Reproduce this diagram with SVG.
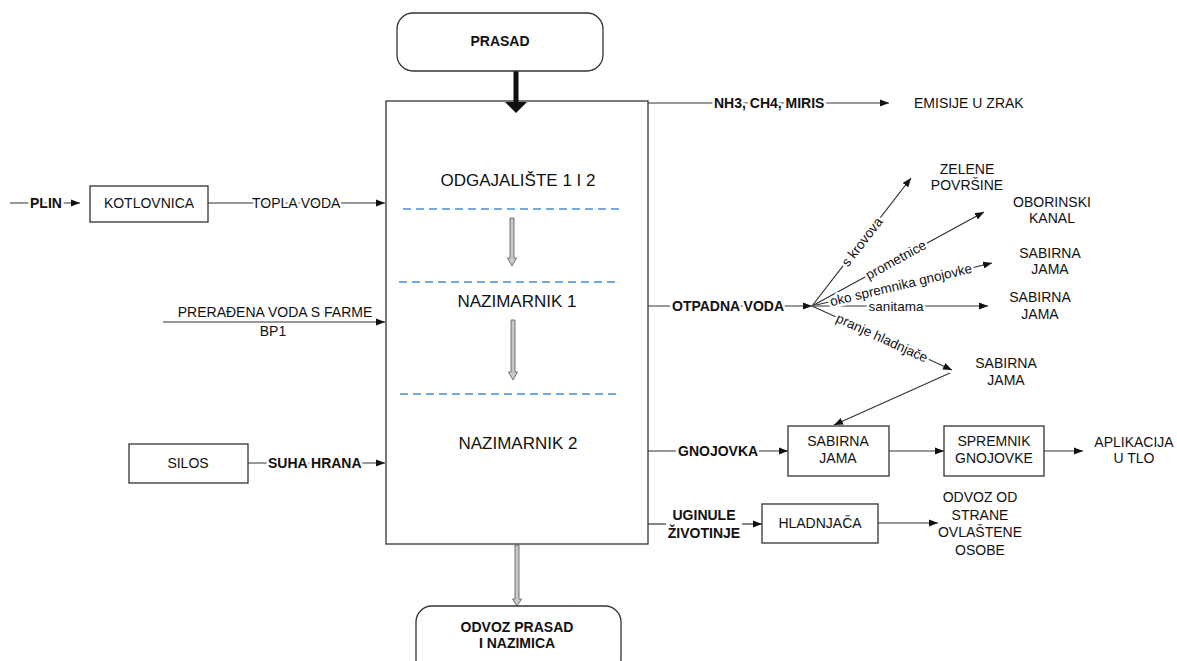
<svg xmlns="http://www.w3.org/2000/svg" width="1177" height="661" viewBox="0 0 1177 661">
<defs>
<marker id="ah" viewBox="0 0 10 8" refX="10" refY="4" markerWidth="9" markerHeight="7.2" markerUnits="userSpaceOnUse" orient="auto">
<path d="M0,0 L10,4 L0,8 z" fill="#111"/>
</marker>
</defs>
<style>
text{font-family:"Liberation Sans",Arial,sans-serif;font-size:14px;fill:#111;}
.b{font-weight:bold;}
.big{font-size:17px;}
.lbl{font-size:13.5px;}
.halo{paint-order:stroke;stroke:#fff;stroke-width:5px;stroke-linejoin:round;}
.box{fill:#fff;stroke:#333;stroke-width:1.3;}
.ln{fill:none;stroke:#333;stroke-width:1.2;}
.gl{fill:none;stroke:#777;stroke-width:1.4;}
.dash{stroke:#4a8fd4;stroke-width:1.4;stroke-dasharray:8,5;}
.hol{fill:#c8c8c8;stroke:#555;stroke-width:0.8;}
</style>
<rect width="1177" height="661" fill="#fff"/>

<g id="farma">
  <rect x="386" y="101" width="262" height="443" fill="#fff" stroke="#333" stroke-width="1.3"/>
  <text x="518" y="186" class="big" text-anchor="middle">ODGAJALIŠTE 1 I 2</text>
  <line class="dash" x1="403" y1="209" x2="622" y2="209"/>
  <polygon class="hol" points="510,218 514,218 514,258 516.5,258 512,266 507.5,258 510,258"/>
  <line class="dash" x1="399" y1="282" x2="618" y2="282"/>
  <text x="517" y="307" class="big" text-anchor="middle">NAZIMARNIK 1</text>
  <polygon class="hol" points="511,320 515,320 515,372 517.5,372 513,380 508.5,372 511,372"/>
  <line class="dash" x1="400" y1="394" x2="620" y2="394"/>
  <text x="518" y="449" class="big" text-anchor="middle">NAZIMARNIK 2</text>
</g>

<g id="connectors">
  <!-- PRASAD thick arrow -->
  <rect x="513.5" y="71" width="5" height="32" fill="#111"/>
  <polygon points="505,102 527,102 516,113" fill="#111"/>
  <!-- bottom hollow arrow -->
  <polygon class="hol" points="515,545 519,545 519,599 521.5,599 517,606 512.5,599 515,599"/>
  <!-- emissions -->
  <line class="ln" x1="648" y1="103" x2="889" y2="103" marker-end="url(#ah)"/>
  <text x="714" y="108" class="b halo">NH3, CH4, MIRIS</text>
  <!-- PLIN -->
  <line class="ln" x1="10" y1="203" x2="80" y2="203" marker-end="url(#ah)"/>
  <text x="30" y="208" class="b halo">PLIN</text>
  <!-- TOPLA VODA -->
  <line class="ln" x1="208" y1="203" x2="385" y2="203" marker-end="url(#ah)"/>
  <text x="252" y="208" class="halo">TOPLA VODA</text>
  <!-- PRERADENA VODA -->
  <line class="ln" x1="163" y1="322" x2="385" y2="322" marker-end="url(#ah)"/>
  <text x="275" y="317" text-anchor="middle">PRERAĐENA VODA S FARME</text>
  <text x="273" y="336" text-anchor="middle">BP1</text>
  <!-- SUHA HRANA -->
  <line class="ln" x1="248" y1="463" x2="385" y2="463" marker-end="url(#ah)"/>
  <text x="268" y="468" class="b halo">SUHA HRANA</text>
  <!-- OTPADNA VODA -->
  <line class="ln" x1="648" y1="306" x2="812" y2="306" marker-end="url(#ah)"/>
  <text x="672" y="311" class="b halo">OTPADNA VODA</text>
  <!-- fan -->
  <line class="ln" x1="812" y1="306" x2="911" y2="178" marker-end="url(#ah)"/>
  <line class="ln" x1="812" y1="306" x2="984" y2="212" marker-end="url(#ah)"/>
  <line class="ln" x1="812" y1="306" x2="992" y2="263" marker-end="url(#ah)"/>
  <line class="gl" x1="812" y1="306" x2="988" y2="306" marker-end="url(#ah)"/>
  <line class="ln" x1="812" y1="306" x2="952" y2="370" marker-end="url(#ah)"/>
  <text class="lbl halo" text-anchor="middle" transform="translate(862,242) rotate(-52.3)" y="4.5">s krovova</text>
  <text class="lbl halo" text-anchor="middle" transform="translate(896,260) rotate(-28.7)" y="4.5">prometnice</text>
  <text class="lbl halo" text-anchor="middle" transform="translate(901,285) rotate(-13.4)" y="4.5">oko spremnika gnojovke</text>
  <text class="lbl halo" text-anchor="middle" x="896" y="310.5">sanitama</text>
  <text class="lbl halo" text-anchor="middle" transform="translate(882,338) rotate(24.6)" y="4.5">pranje hladnjače</text>
  <!-- to SABIRNA JAMA box -->
  <line class="ln" x1="950" y1="373" x2="834" y2="425" marker-end="url(#ah)"/>
  <!-- GNOJOVKA -->
  <line class="ln" x1="648" y1="451" x2="788" y2="451" marker-end="url(#ah)"/>
  <text x="678" y="456" class="b halo">GNOJOVKA</text>
  <line class="ln" x1="889" y1="451" x2="944" y2="451" marker-end="url(#ah)"/>
  <line class="ln" x1="1044" y1="451" x2="1083" y2="451" marker-end="url(#ah)"/>
  <!-- UGINULE -->
  <line class="ln" x1="648" y1="524" x2="666" y2="524"/>
  <line class="ln" x1="742" y1="524" x2="762" y2="524" marker-end="url(#ah)"/>
  <text x="704" y="520" class="b" text-anchor="middle">UGINULE</text>
  <text x="704" y="538" class="b" text-anchor="middle">ŽIVOTINJE</text>
  <line class="ln" x1="878" y1="523" x2="938" y2="523" marker-end="url(#ah)"/>
</g>

<g id="prasad">
  <rect class="box" x="397" y="13" width="206" height="58" rx="16"/>
  <text x="500" y="46" class="b" text-anchor="middle">PRASAD</text>
</g>

<g id="odvoz">
  <rect class="box" x="416" y="606" width="205" height="70" rx="16"/>
  <text x="517" y="632" class="b" text-anchor="middle">ODVOZ PRASAD</text>
  <text x="517" y="648" class="b" text-anchor="middle">I NAZIMICA</text>
</g>

<g id="emisije"><text x="914" y="108">EMISIJE U ZRAK</text></g>

<g id="kotlovnica">
  <rect class="box" x="90" y="186" width="118" height="36"/>
  <text x="149" y="208" text-anchor="middle">KOTLOVNICA</text>
</g>

<g id="silos">
  <rect class="box" x="129" y="444" width="119" height="39"/>
  <text x="188" y="468" text-anchor="middle">SILOS</text>
</g>

<g id="zelene">
  <text x="967" y="174" text-anchor="middle">ZELENE</text>
  <text x="967" y="190" text-anchor="middle">POVRŠINE</text>
</g>
<g id="oborinski">
  <text x="1052" y="207" text-anchor="middle">OBORINSKI</text>
  <text x="1052" y="223" text-anchor="middle">KANAL</text>
</g>
<g id="sabirna1">
  <text x="1050" y="258" text-anchor="middle">SABIRNA</text>
  <text x="1050" y="274" text-anchor="middle">JAMA</text>
</g>
<g id="sabirna2">
  <text x="1040" y="302" text-anchor="middle">SABIRNA</text>
  <text x="1040" y="319" text-anchor="middle">JAMA</text>
</g>
<g id="sabirna3">
  <text x="1006" y="368" text-anchor="middle">SABIRNA</text>
  <text x="1006" y="385" text-anchor="middle">JAMA</text>
</g>

<g id="sabirna-box">
  <rect class="box" x="788" y="426" width="101" height="50"/>
  <text x="838" y="446" text-anchor="middle">SABIRNA</text>
  <text x="838" y="463" text-anchor="middle">JAMA</text>
</g>
<g id="spremnik">
  <rect class="box" x="944" y="426" width="100" height="50"/>
  <text x="994" y="446" text-anchor="middle">SPREMNIK</text>
  <text x="994" y="463" text-anchor="middle">GNOJOVKE</text>
</g>
<g id="aplikacija">
  <text x="1134" y="447" text-anchor="middle">APLIKACIJA</text>
  <text x="1134" y="463" text-anchor="middle">U TLO</text>
</g>

<g id="hladnjaca">
  <rect class="box" x="762" y="504" width="116" height="39"/>
  <text x="820" y="528" text-anchor="middle">HLADNJAČA</text>
</g>
<g id="ovlastena">
  <text x="980" y="502" text-anchor="middle">ODVOZ OD</text>
  <text x="980" y="520" text-anchor="middle">STRANE</text>
  <text x="980" y="537" text-anchor="middle">OVLAŠTENE</text>
  <text x="980" y="555" text-anchor="middle">OSOBE</text>
</g>
</svg>
